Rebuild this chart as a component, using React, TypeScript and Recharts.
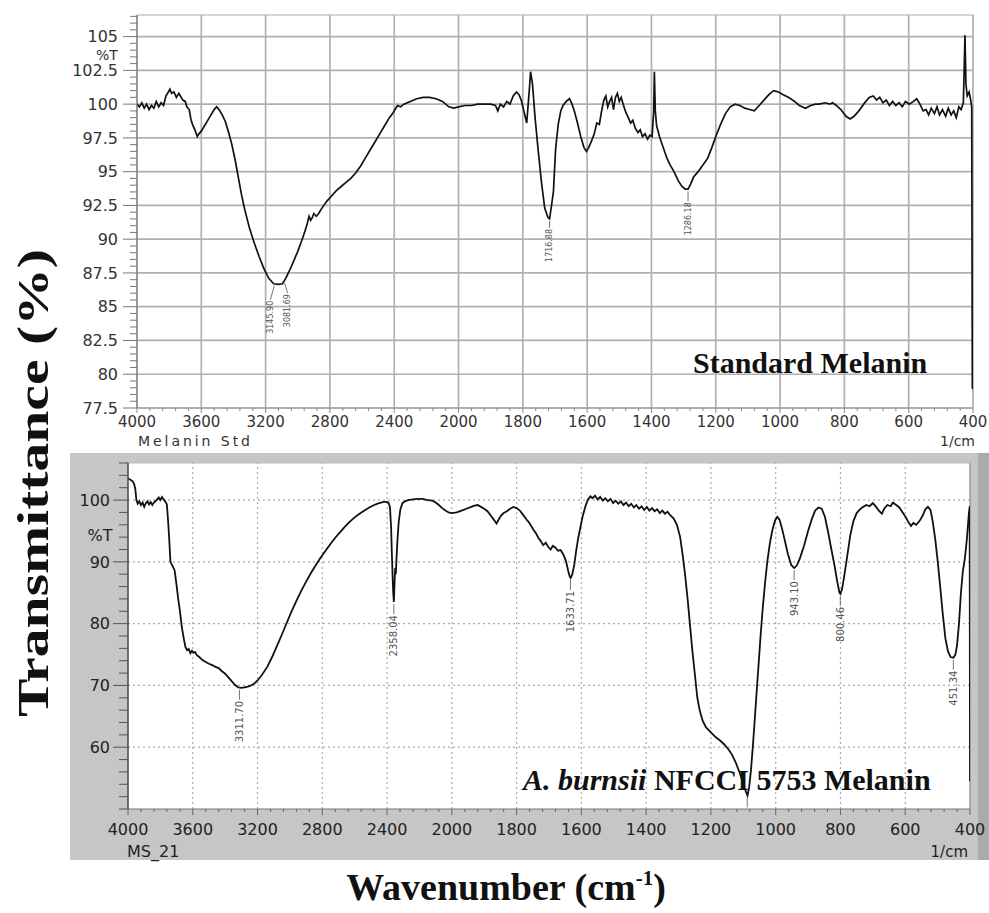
import React from 'react';
import { LineChart, Line, XAxis, YAxis, ReferenceLine, ReferenceDot, ReferenceArea } from 'recharts';

// ---------- axis labels ----------
const xTickWavenumbers = [4000, 3600, 3200, 2800, 2400, 2000, 1800, 1600, 1400, 1200, 1000, 800, 600, 400];
const topYTickLabels = [77.5, 80, 82.5, 85, 87.5, 90, 92.5, 95, 97.5, 100, 102.5, 105];
const bottomYTickLabels = [60, 70, 80, 90, 100];

// ---------- Standard Melanin spectrum [wavenumber, %T] ----------
const topSpectrum: [number, number][] = [
  [4000, 100.0], [3985, 99.8], [3970, 100.1], [3955, 99.7], [3940, 100.0], [3925, 99.6], [3910, 99.9], [3895, 99.7],
  [3880, 100.2], [3865, 99.8], [3850, 100.1], [3835, 99.9], [3820, 100.6], [3805, 100.9], [3795, 101.1], [3785, 100.8],
  [3770, 100.9], [3755, 100.5], [3740, 100.8], [3730, 100.6], [3715, 100.3], [3700, 100.2], [3690, 99.8], [3675, 99.6],
  [3665, 98.9], [3655, 98.5], [3640, 98.1], [3625, 97.6], [3615, 97.8], [3600, 98.0], [3580, 98.4], [3560, 98.8],
  [3540, 99.2], [3520, 99.6], [3505, 99.8], [3490, 99.6], [3470, 99.2], [3450, 98.7], [3430, 97.9], [3410, 97.0],
  [3390, 95.9], [3370, 94.6], [3350, 93.3], [3330, 92.2], [3300, 90.8], [3270, 89.7], [3240, 88.7], [3210, 87.8],
  [3180, 87.1], [3150, 86.7], [3120, 86.65], [3095, 86.7], [3075, 87.1], [3050, 87.7], [3025, 88.4], [3000, 89.1],
  [2975, 89.9], [2955, 90.6], [2940, 91.2], [2930, 91.7], [2920, 91.4], [2910, 91.6], [2900, 91.9], [2885, 91.7],
  [2870, 91.9], [2850, 92.3], [2820, 92.8], [2790, 93.2], [2760, 93.6], [2730, 93.9], [2700, 94.2], [2670, 94.5],
  [2640, 94.9], [2610, 95.4], [2580, 96.0], [2550, 96.6], [2520, 97.2], [2490, 97.8], [2460, 98.4], [2430, 99.0],
  [2410, 99.3], [2395, 99.6], [2380, 99.9], [2360, 99.8], [2340, 100.0], [2300, 100.2], [2260, 100.4], [2220, 100.5],
  [2180, 100.5], [2140, 100.4], [2100, 100.2], [2060, 99.8], [2030, 99.7], [2000, 99.8], [1980, 99.9], [1960, 99.9],
  [1940, 100.0], [1920, 100.0], [1900, 100.0], [1885, 99.9], [1878, 99.5], [1870, 100.0], [1860, 99.8], [1850, 100.2],
  [1840, 100.0], [1830, 100.6], [1820, 100.9], [1812, 100.7], [1805, 100.3], [1797, 99.5], [1788, 98.6], [1780, 101.0],
  [1776, 102.4], [1770, 101.5], [1762, 99.0], [1752, 96.5], [1742, 94.2], [1732, 92.3], [1722, 91.6], [1717, 91.5],
  [1712, 92.3], [1705, 93.5], [1698, 96.7], [1690, 98.5], [1682, 99.5], [1675, 99.9], [1665, 100.2], [1655, 100.4],
  [1647, 100.0], [1640, 99.5], [1630, 98.6], [1620, 97.6], [1610, 96.8], [1602, 96.5], [1595, 96.8], [1586, 97.3],
  [1578, 97.8], [1570, 98.6], [1562, 98.5], [1555, 99.5], [1548, 100.3], [1542, 100.6], [1536, 99.8], [1530, 100.2],
  [1524, 100.5], [1518, 99.6], [1512, 100.5], [1506, 100.8], [1500, 100.2], [1494, 100.5], [1488, 100.0], [1480, 99.4],
  [1472, 99.0], [1465, 98.6], [1458, 98.8], [1450, 98.2], [1442, 97.9], [1435, 98.1], [1428, 97.6], [1420, 97.8],
  [1412, 97.4], [1405, 97.7], [1398, 97.6], [1393, 99.5], [1391, 102.4], [1388, 99.5], [1384, 98.4], [1375, 97.6],
  [1365, 96.9], [1352, 96.0], [1342, 95.5], [1330, 95.0], [1316, 94.3], [1305, 93.9], [1295, 93.7], [1286, 93.7],
  [1278, 94.1], [1269, 94.6], [1255, 95.0], [1240, 95.5], [1225, 96.0], [1212, 96.8], [1200, 97.6], [1185, 98.5],
  [1170, 99.3], [1155, 99.8], [1140, 100.0], [1125, 99.9], [1110, 99.7], [1095, 99.6], [1080, 99.5], [1065, 99.9],
  [1050, 100.3], [1035, 100.7], [1020, 101.0], [1005, 100.9], [990, 100.7], [973, 100.5], [955, 100.2], [940, 99.9],
  [921, 99.7], [905, 99.9], [890, 100.0], [879, 100.0], [860, 100.1], [845, 100.0], [837, 100.1], [825, 99.9],
  [811, 99.6], [795, 99.1], [782, 98.9], [770, 99.1], [755, 99.5], [740, 100.0], [723, 100.5], [710, 100.6],
  [700, 100.3], [690, 100.5], [680, 100.1], [670, 100.3], [660, 99.9], [650, 100.2], [640, 99.9], [630, 100.1],
  [620, 99.8], [610, 100.2], [598, 100.0], [585, 100.2], [575, 100.4], [565, 100.0], [555, 99.5], [546, 99.6],
  [538, 99.2], [530, 99.7], [520, 99.3], [512, 99.8], [504, 99.2], [495, 99.6], [485, 99.1], [477, 99.7],
  [468, 99.2], [460, 99.5], [452, 99.0], [444, 99.8], [437, 99.6], [430, 100.1], [427, 103.0], [425, 105.1],
  [422, 101.5], [418, 100.6], [412, 100.9], [408, 100.4], [404, 99.8], [402, 79.0], [400, 78.9],
];

// ---------- A. burnsii NFCCI 5753 Melanin spectrum [wavenumber, %T] ----------
const bottomSpectrum: [number, number][] = [
  [4000, 103.5], [3985, 103.3], [3970, 103.0], [3962, 102.6], [3955, 101.8], [3948, 100.0], [3940, 99.4], [3930, 99.8],
  [3920, 99.2], [3910, 99.6], [3900, 98.9], [3890, 99.5], [3880, 99.8], [3870, 99.3], [3860, 99.7], [3850, 99.2],
  [3840, 99.6], [3830, 99.8], [3820, 100.1], [3810, 100.4], [3800, 100.0], [3790, 100.5], [3780, 100.1], [3770, 99.8],
  [3760, 99.3], [3752, 96.5], [3745, 93.5], [3738, 90.0], [3730, 89.6], [3722, 89.2], [3712, 88.6], [3700, 86.2],
  [3690, 84.0], [3680, 82.2], [3668, 79.5], [3655, 77.5], [3645, 76.2], [3635, 75.7], [3625, 75.9], [3615, 75.2],
  [3605, 75.6], [3595, 75.3], [3585, 75.4], [3575, 74.9], [3560, 74.6], [3540, 74.1], [3520, 73.8], [3500, 73.5],
  [3480, 73.3], [3460, 73.0], [3440, 72.8], [3420, 72.3], [3400, 71.9], [3380, 71.3], [3360, 70.7], [3340, 70.1],
  [3320, 69.7], [3300, 69.6], [3280, 69.7], [3260, 69.8], [3240, 70.0], [3220, 70.3], [3200, 70.8], [3170, 71.8],
  [3140, 73.0], [3110, 74.6], [3080, 76.4], [3050, 78.2], [3020, 80.1], [2990, 82.0], [2960, 83.7], [2930, 85.3],
  [2900, 86.8], [2870, 88.2], [2840, 89.5], [2810, 90.7], [2780, 91.8], [2750, 92.9], [2720, 93.9], [2690, 94.8],
  [2660, 95.7], [2630, 96.5], [2600, 97.2], [2570, 97.8], [2540, 98.3], [2510, 98.8], [2480, 99.2], [2450, 99.5],
  [2420, 99.7], [2400, 99.7], [2390, 99.5], [2382, 98.8], [2375, 95.5], [2370, 91.0], [2365, 87.0], [2362, 85.0],
  [2358, 83.5], [2354, 86.5], [2350, 89.0], [2346, 88.0], [2342, 90.5], [2336, 93.5], [2328, 96.5], [2318, 98.5],
  [2305, 99.5], [2290, 99.8], [2270, 100.0], [2240, 100.1], [2210, 100.2], [2180, 100.2], [2150, 100.0], [2120, 99.9],
  [2100, 99.6], [2080, 99.2], [2060, 98.7], [2040, 98.3], [2020, 98.0], [2000, 97.9], [1985, 98.0], [1970, 98.3],
  [1955, 98.6], [1940, 98.9], [1930, 99.1], [1920, 99.2], [1910, 98.9], [1900, 98.6], [1890, 98.2], [1880, 97.5],
  [1870, 96.8], [1862, 96.2], [1855, 96.9], [1848, 97.5], [1840, 97.9], [1830, 98.2], [1820, 98.6], [1810, 98.9],
  [1800, 98.7], [1790, 98.3], [1780, 97.6], [1770, 96.9], [1762, 96.4], [1755, 95.8], [1748, 95.2], [1740, 94.6],
  [1733, 93.9], [1726, 93.4], [1718, 92.7], [1710, 93.1], [1702, 92.4], [1695, 92.0], [1688, 92.6], [1680, 92.3],
  [1672, 91.8], [1664, 91.9], [1656, 91.2], [1648, 90.2], [1641, 88.6], [1636, 87.6], [1633, 87.4], [1628, 88.0],
  [1622, 89.5], [1616, 91.8], [1610, 93.8], [1603, 95.6], [1596, 97.4], [1588, 98.9], [1580, 100.1], [1572, 100.6],
  [1566, 100.3], [1558, 100.7], [1550, 100.1], [1542, 100.5], [1534, 99.9], [1526, 100.3], [1518, 99.8], [1510, 100.2],
  [1502, 99.5], [1494, 99.9], [1486, 99.4], [1478, 99.8], [1470, 99.2], [1462, 99.6], [1454, 99.0], [1446, 99.4],
  [1438, 98.8], [1430, 99.2], [1422, 98.6], [1414, 99.0], [1406, 98.4], [1398, 98.9], [1390, 98.3], [1382, 98.7],
  [1374, 98.2], [1366, 98.5], [1358, 97.9], [1350, 98.3], [1342, 97.8], [1334, 98.1], [1325, 97.5], [1315, 97.0],
  [1305, 96.0], [1295, 94.0], [1287, 91.0], [1280, 88.0], [1272, 84.0], [1265, 80.0], [1258, 76.0], [1250, 72.0],
  [1242, 68.0], [1234, 65.8], [1225, 64.2], [1215, 63.2], [1200, 62.4], [1185, 61.6], [1170, 61.0], [1158, 60.4],
  [1145, 59.6], [1135, 58.8], [1124, 57.6], [1112, 56.0], [1100, 54.0], [1092, 52.8], [1087, 52.2], [1082, 53.5],
  [1076, 56.5], [1070, 60.5], [1064, 65.0], [1058, 69.5], [1052, 74.0], [1046, 78.5], [1040, 82.5], [1033, 86.5],
  [1026, 90.0], [1018, 93.0], [1010, 95.2], [1002, 96.7], [995, 97.3], [988, 96.8], [980, 95.3], [972, 93.5],
  [962, 91.2], [952, 89.5], [943, 89.0], [935, 89.4], [925, 90.6], [912, 92.7], [900, 95.0], [888, 97.0],
  [878, 98.3], [868, 98.8], [858, 98.6], [848, 97.3], [838, 94.8], [828, 92.0], [818, 89.3], [810, 86.8],
  [803, 85.0], [800, 84.8], [795, 85.6], [788, 87.8], [780, 90.6], [770, 94.2], [760, 96.6], [750, 97.9],
  [740, 98.5], [730, 98.9], [720, 99.2], [710, 99.0], [700, 99.5], [690, 98.9], [680, 98.2], [672, 97.8],
  [665, 98.6], [655, 99.2], [645, 99.0], [638, 99.6], [628, 99.2], [618, 98.8], [608, 98.0], [598, 97.2],
  [590, 96.4], [582, 95.8], [575, 96.3], [566, 96.0], [556, 96.6], [546, 97.5], [538, 98.5], [530, 98.9],
  [522, 98.4], [515, 96.5], [507, 93.5], [500, 90.2], [492, 86.0], [484, 81.5], [476, 77.6], [468, 75.5],
  [460, 74.6], [451, 74.5], [445, 75.0], [440, 76.5], [434, 80.0], [428, 85.0], [422, 88.5], [416, 90.5],
  [410, 93.5], [404, 97.5], [401, 99.0], [400, 54.5],
];

// ---------- peak annotations ----------
const topPeaks = [
  { wn: 3145.9, t: 86.7, label: '3145.90' },
  { wn: 3081.69, t: 86.9, label: '3081.69' },
  { wn: 1716.88, t: 91.5, label: '1716.88' },
  { wn: 1286.18, t: 93.7, label: '1286.18' },
];
const bottomPeaks = [
  { wn: 3311.7, t: 69.6, label: '3311.70' },
  { wn: 2358.04, t: 83.5, label: '2358.04' },
  { wn: 1633.71, t: 87.4, label: '1633.71' },
  { wn: 1087.83, t: 52.2, label: '1087.83' },
  { wn: 943.1, t: 89.0, label: '943.10' },
  { wn: 800.46, t: 84.8, label: '800.46' },
  { wn: 451.34, t: 74.5, label: '451.34' },
];

// leader geometry (style only)
const leaderStyle: Record<string, { dx: number; lead: number }> = {
  '3145.90': { dx: -4, lead: 16 },
  '3081.69': { dx: 3, lead: 12 },
  '1716.88': { dx: 0, lead: 9 },
  '1286.18': { dx: 0, lead: 12 },
};

// IR spectrometer axis: 400 cm-1 per division above 2000, 200 cm-1 per division below
const toU = (wn: number) => (wn >= 2000 ? (4000 - wn) / 400 : 5 + (2000 - wn) / 200);
const fromU = (u: number) => (u <= 5 ? 4000 - 400 * u : 2000 - 200 * (u - 5));

const X_MAX = 13;
const xTicksAll = Array.from({ length: X_MAX * 5 + 1 }, (_, i) => Math.round(i * 20) / 100);
const topYMin = 77.5;
const topYMax = 106.6;
const topYTicksAll = Array.from({ length: 59 }, (_, i) => 77.5 + i * 0.5);
const botYMin = 50;
const botYMax = 106;
const botYTicksAll = Array.from({ length: 29 }, (_, i) => 50 + i * 2);

const SANS = "'DejaVu Sans', Verdana, sans-serif";
const SERIF = "'Liberation Serif', 'Times New Roman', serif";

const isIn = (list: number[], v: number) => list.some((m) => Math.abs(m - v) < 1e-6);

const makeXTick = (
  majors: number[], S: number, M: number, minorLen: number, color: string, textColor: string, fontSize: number,
) =>
  (props: any) => {
    const { x, y, payload } = props;
    const v = payload.value;
    const major = isIn(majors, v);
    const y0 = y - S - M;
    return (
      <g>
        <line x1={x} x2={x} y1={y0} y2={y0 + (major ? S : minorLen)} stroke={color} strokeWidth={1} />
        {major && (
          <text x={x} y={y} dy="0.78em" textAnchor="middle" fontFamily={SANS} fontSize={fontSize} fill={textColor}>
            {String(Math.round(fromU(v)))}
          </text>
        )}
      </g>
    );
  };

const makeYTick = (majors: number[], S: number, M: number, minorLen: number, color: string, textColor: string) =>
  (props: any) => {
    const { x, y, payload } = props;
    const v = payload.value;
    const major = isIn(majors, v);
    const x0 = x + S + M;
    return (
      <g>
        <line x1={x0 - (major ? S : minorLen)} x2={x0} y1={y} y2={y} stroke={color} strokeWidth={1} />
        {major && (
          <text x={x} y={y} dy="0.36em" textAnchor="end" fontFamily={SANS} fontSize={16} fill={textColor}>
            {String(v)}
          </text>
        )}
      </g>
    );
  };

const PeakMark = (props: any) => {
  const { cx, cy, label, dx, lead, fontSize, clipPath } = props;
  if (cx == null || cy == null) return null;
  const x2 = cx + dx;
  const y2 = cy + lead;
  return (
    <g clipPath={clipPath}>
      <line x1={cx} y1={cy + 2} x2={x2} y2={y2} stroke="#666" strokeWidth={0.9} />
      <text
        x={x2}
        y={y2 + 1}
        transform={`rotate(-90 ${x2} ${y2 + 1})`}
        textAnchor="end"
        dy="0.35em"
        fontFamily={SANS}
        fontSize={fontSize}
        fill="#555"
      >
        {label}
      </text>
    </g>
  );
};

const topXTick = makeXTick(xTickWavenumbers.map(toU), 5, 2, 3, '#888', '#333', 15);
const topYTick = makeYTick(topYTickLabels, 14, 5, 7, '#777', '#333');
const botXTick = makeXTick(xTickWavenumbers.map(toU), 6, 8, 3, '#666', '#222', 16);
const botYTick = makeYTick(bottomYTickLabels, 15, 3, 9, '#555', '#222');

function TopChart() {
  const data = topSpectrum.map(([wn, t]) => ({ u: toU(wn), t }));
  return (
    <LineChart width={989} height={450} data={data} margin={{ top: 15, right: 16, left: 0, bottom: 0 }}>
      <XAxis
        dataKey="u"
        type="number"
        domain={[0, X_MAX]}
        ticks={xTicksAll}
        interval={0}
        allowDataOverflow
        height={42}
        tickSize={5}
        tickMargin={2}
        tickLine={false}
        stroke="#999"
        tick={topXTick}
      />
      <YAxis
        type="number"
        domain={[topYMin, topYMax]}
        ticks={topYTicksAll}
        interval={0}
        allowDataOverflow
        width={137}
        tickSize={14}
        tickMargin={5}
        tickLine={false}
        stroke="#777"
        tick={topYTick}
      />
      {xTickWavenumbers.map((wn) => (
        <ReferenceLine key={'vx' + wn} x={toU(wn)} stroke="#b0b0b0" strokeWidth={1.7} />
      ))}
      {topYTickLabels.map((v) => (
        <ReferenceLine key={'hy' + v} y={v} stroke="#b0b0b0" strokeWidth={1.7} />
      ))}
      <ReferenceLine y={topYMax} stroke="#aaa" strokeWidth={1.2} />
      <Line dataKey="t" type="linear" stroke="#111" strokeWidth={1.7} dot={false} isAnimationActive={false} />
      {topPeaks.map((p) => (
        <ReferenceDot
          key={p.label}
          x={toU(p.wn)}
          y={p.t}
          r={0}
          ifOverflow="visible"
          shape={(s: any) => (
            <PeakMark {...s} label={p.label} dx={leaderStyle[p.label].dx} lead={leaderStyle[p.label].lead} fontSize={8} />
          )}
        />
      ))}
    </LineChart>
  );
}

function BottomChart() {
  const data = bottomSpectrum.map(([wn, t]) => ({ u: toU(wn), t }));
  return (
    <LineChart width={919} height={407} data={data} margin={{ top: 10, right: 19, left: 0, bottom: 0 }}>
      <XAxis
        dataKey="u"
        type="number"
        domain={[0, X_MAX]}
        ticks={xTicksAll}
        interval={0}
        allowDataOverflow
        height={51}
        tickSize={6}
        tickMargin={8}
        tickLine={false}
        stroke="#777"
        tick={botXTick}
      />
      <YAxis
        type="number"
        domain={[botYMin, botYMax]}
        ticks={botYTicksAll}
        interval={0}
        allowDataOverflow
        width={58}
        tickSize={15}
        tickMargin={3}
        tickLine={false}
        stroke="#444"
        strokeWidth={1.5}
        tick={botYTick}
      />
      <ReferenceArea x1={0} x2={X_MAX} y1={botYMin} y2={botYMax} fill="#ffffff" fillOpacity={1} stroke="none" />
      {xTickWavenumbers.slice(1, -1).map((wn) => (
        <ReferenceLine key={'vx' + wn} x={toU(wn)} stroke="#aaa" strokeWidth={1.2} strokeDasharray="2 3" />
      ))}
      {bottomYTickLabels.map((v) => (
        <ReferenceLine key={'hy' + v} y={v} stroke="#aaa" strokeWidth={1.2} strokeDasharray="2 3" />
      ))}
      <ReferenceLine y={botYMax} stroke="#bbb" strokeWidth={1} />
      <ReferenceLine x={X_MAX} stroke="#888" strokeWidth={1.2} />
      <Line dataKey="t" type="linear" stroke="#111" strokeWidth={1.8} dot={false} isAnimationActive={false} />
      {bottomPeaks.map((p) => (
        <ReferenceDot
          key={p.label}
          x={toU(p.wn)}
          y={p.t}
          r={0}
          ifOverflow="hidden"
          shape={(s: any) => <PeakMark {...s} label={p.label} dx={0} lead={12} fontSize={10} />}
        />
      ))}
    </LineChart>
  );
}

export default function App() {
  return (
    <div
      style={{
        position: 'absolute',
        left: 0,
        top: 0,
        width: 989,
        height: 913,
        background: '#ffffff',
        overflow: 'hidden',
      }}
    >
      <div style={{ position: 'absolute', left: 0, top: 0 }}>
        <TopChart />
      </div>
      <div style={{ position: 'absolute', left: 70, top: 453, width: 919, height: 407, background: '#c6c6c6' }} />
      <div style={{ position: 'absolute', left: 978, top: 453, width: 11, height: 407, background: '#ababab' }} />
      <div style={{ position: 'absolute', left: 70, top: 453 }}>
        <BottomChart />
      </div>
      <svg
        width={989}
        height={913}
        style={{ position: 'absolute', left: 0, top: 0, pointerEvents: 'none' }}
      >
        <text
          x={33}
          y={483}
          transform="rotate(-90 33 483)"
          textAnchor="middle"
          dy="0.35em"
          fontFamily={SERIF}
          fontWeight="bold"
          fontSize={44}
          textLength={468}
          lengthAdjust="spacingAndGlyphs"
          fill="#111"
        >
          Transmittance (%)
        </text>
        <text
          x={506}
          y={900}
          textAnchor="middle"
          fontFamily={SERIF}
          fontWeight="bold"
          fontSize={38}
          fill="#111"
        >
          Wavenumber (cm
          <tspan dy={-15} fontSize={21}>-1</tspan>
          <tspan dy={15}>)</tspan>
        </text>
        <text x={693} y={373} fontFamily={SERIF} fontWeight="bold" fontSize={30} fill="#111">
          Standard Melanin
        </text>
        <text x={523} y={790} fontFamily={SERIF} fontWeight="bold" fontSize={30} fill="#111">
          <tspan fontStyle="italic">A. burnsii</tspan> NFCCI 5753 Melanin
        </text>
        <text x={107} y={55} dy="0.35em" textAnchor="middle" fontFamily={SANS} fontSize={14} fill="#333">
          %T
        </text>
        <text
          x={138}
          y={441}
          dy="0.35em"
          fontFamily={SANS}
          fontSize={14}
          textLength={112}
          lengthAdjust="spacing"
          fill="#333"
        >
          Melanin Std
        </text>
        <text x={975} y={441} dy="0.35em" textAnchor="end" fontFamily={SANS} fontSize={14} fill="#333">
          1/cm
        </text>
        <text x={100} y={535} dy="0.35em" textAnchor="middle" fontFamily={SANS} fontSize={16} fill="#222">
          %T
        </text>
        <text x={127} y={851} dy="0.35em" fontFamily={SANS} fontSize={16} fill="#222">
          MS_21
        </text>
        <text x={968} y={852} dy="0.35em" textAnchor="end" fontFamily={SANS} fontSize={15} fill="#222">
          1/cm
        </text>
      </svg>
    </div>
  );
}
